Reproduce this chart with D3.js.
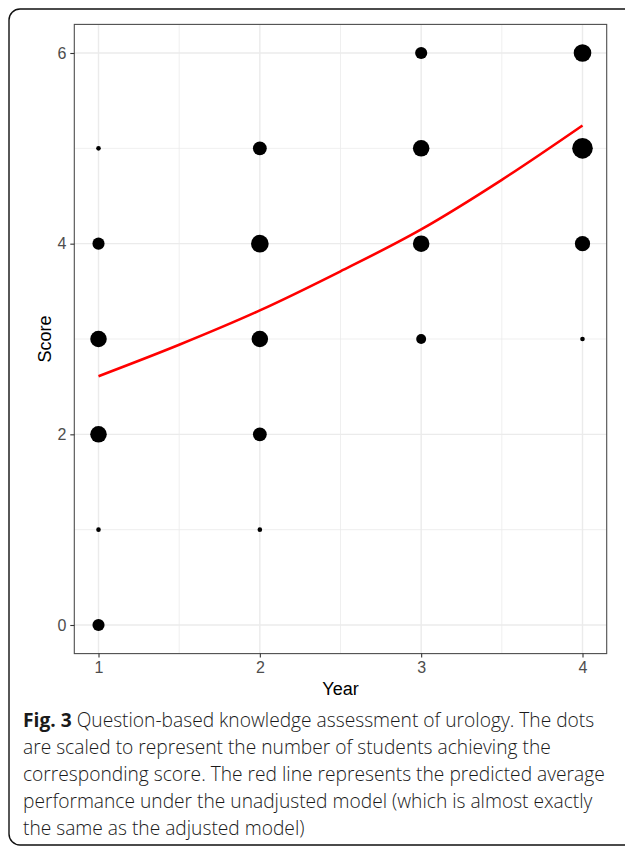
<!DOCTYPE html>
<html>
<head>
<meta charset="utf-8">
<script src="https://cdn.jsdelivr.net/npm/d3@7"></script>
<style>
  body { margin: 0; background: #fff; }
  svg { display: block; }
</style>
</head>
<body>
<div id="chart"></div>
<script>
// counts of students per (year, score)
const years = [1, 2, 3, 4];
const scoreTicks = [0, 2, 4, 6];
const year1 = [{score: 0, n: 3}, {score: 1, n: 1}, {score: 2, n: 6}, {score: 3, n: 6}, {score: 4, n: 3}, {score: 5, n: 1}];
const year2 = [{score: 1, n: 1}, {score: 2, n: 4}, {score: 3, n: 6}, {score: 4, n: 7}, {score: 5, n: 4}];
const year3 = [{score: 3, n: 2}, {score: 4, n: 6}, {score: 5, n: 6}, {score: 6, n: 3}];
const year4 = [{score: 3, n: 1}, {score: 4, n: 5}, {score: 5, n: 10}, {score: 6, n: 7}];

// predicted average (red line), read at half-year steps
const fitYear = [1, 1.5, 2, 2.5, 3, 3.5, 4];
const fitScore = [2.61, 2.94, 3.30, 3.71, 4.15, 4.67, 5.24];

const captionBold = "Fig. 3";
const captionLines = [
  " Question-based knowledge assessment of urology. The dots",
  "are scaled to represent the number of students achieving the",
  "corresponding score. The red line represents the predicted average",
  "performance under the unadjusted model (which is almost exactly",
  "the same as the adjusted model)"
];

const width = 625, height = 848;
const panel = {left: 74.3, right: 606.7, top: 24.4, bottom: 653.6};

const svg = d3.select('#chart').append('svg')
  .attr('width', width)
  .attr('height', height);

// outer frame (right side runs off the picture)
svg.append('rect')
  .attr('x', 9).attr('y', 9)
  .attr('width', 660).attr('height', 836)
  .attr('rx', 11)
  .attr('fill', 'none')
  .attr('stroke', '#111')
  .attr('stroke-width', 1.4);

// ggplot-style 5% expansion
const x = d3.scaleLinear().domain([0.85, 4.15]).range([panel.left, panel.right]);
const y = d3.scaleLinear().domain([-0.3, 6.3]).range([panel.bottom, panel.top]);

const g = svg.append('g');

// minor grid
g.selectAll('.minor-x').data([1.5, 2.5, 3.5]).join('line')
  .attr('x1', d => x(d)).attr('x2', d => x(d))
  .attr('y1', panel.top).attr('y2', panel.bottom)
  .attr('stroke', '#ebebeb').attr('stroke-width', 0.8);
g.selectAll('.minor-y').data([1, 3, 5]).join('line')
  .attr('y1', d => y(d)).attr('y2', d => y(d))
  .attr('x1', panel.left).attr('x2', panel.right)
  .attr('stroke', '#ebebeb').attr('stroke-width', 0.8);

// major grid
g.selectAll('.major-x').data(years).join('line')
  .attr('x1', d => x(d)).attr('x2', d => x(d))
  .attr('y1', panel.top).attr('y2', panel.bottom)
  .attr('stroke', '#ebebeb').attr('stroke-width', 1.4);
g.selectAll('.major-y').data(scoreTicks).join('line')
  .attr('y1', d => y(d)).attr('y2', d => y(d))
  .attr('x1', panel.left).attr('x2', panel.right)
  .attr('stroke', '#ebebeb').attr('stroke-width', 1.4);

// dot size: ggplot area scale, size ~ sqrt of rescaled count
const allCounts = [year1, year2, year3, year4].flat().map(d => d.n);
const norm = d3.scaleLinear().domain(d3.extent(allCounts)).range([0, 1]);
const radius = d3.scaleLinear().domain([0, 1]).range([2.3, 10.3]);

const dots = [year1, year2, year3, year4].flatMap((arr, i) =>
  arr.map(d => ({year: years[i], score: d.score, n: d.n})));

g.selectAll('circle').data(dots).join('circle')
  .attr('cx', d => x(d.year))
  .attr('cy', d => y(d.score))
  .attr('r', d => radius(Math.sqrt(norm(d.n))))
  .attr('fill', '#000');

// predicted line
const line = d3.line()
  .x((d, i) => x(fitYear[i]))
  .y(d => y(d))
  .curve(d3.curveMonotoneX);
g.append('path')
  .datum(fitScore)
  .attr('d', line)
  .attr('fill', 'none')
  .attr('stroke', '#ff0000')
  .attr('stroke-width', 2.6);

// panel border
svg.append('rect')
  .attr('x', panel.left).attr('y', panel.top)
  .attr('width', panel.right - panel.left)
  .attr('height', panel.bottom - panel.top)
  .attr('fill', 'none')
  .attr('stroke', '#4d4d4d')
  .attr('stroke-width', 1.1);

// axes
const xAxis = svg.append('g')
  .attr('transform', `translate(0,${panel.bottom})`)
  .call(d3.axisBottom(x).tickValues(years).tickFormat(d3.format('d')).tickSize(4).tickPadding(4));
const yAxis = svg.append('g')
  .attr('transform', `translate(${panel.left},0)`)
  .call(d3.axisLeft(y).tickValues(scoreTicks).tickFormat(d3.format('d')).tickSize(4).tickPadding(4));

[xAxis, yAxis].forEach(a => {
  a.select('.domain').remove();
  a.selectAll('.tick line').attr('stroke', '#333').attr('stroke-width', 1.1);
  a.selectAll('.tick text')
    .attr('fill', '#4d4d4d')
    .style('font-family', '"Liberation Sans", Arial, sans-serif')
    .style('font-size', '16px');
});

svg.append('text')
  .attr('x', (panel.left + panel.right) / 2)
  .attr('y', 695)
  .attr('text-anchor', 'middle')
  .attr('font-family', '"Liberation Sans", Arial, sans-serif')
  .attr('font-size', 18)
  .text('Year');

svg.append('text')
  .attr('transform', `translate(51,${(panel.top + panel.bottom) / 2}) rotate(-90)`)
  .attr('text-anchor', 'middle')
  .attr('font-family', '"Liberation Sans", Arial, sans-serif')
  .attr('font-size', 18)
  .text('Score');

// caption
const cap = svg.append('text')
  .attr('font-family', '"Open Sans", sans-serif')
  .attr('font-size', 19.2)
  .attr('font-weight', 300)
  .attr('fill', '#1a1a1a');

captionLines.forEach((t, i) => {
  const row = cap.append('tspan')
    .attr('x', 23)
    .attr('y', 727 + i * 27);
  if (i === 0) {
    row.append('tspan').attr('font-weight', 700).text(captionBold);
  }
  row.append('tspan').text(t);
});
</script>
</body>
</html>
